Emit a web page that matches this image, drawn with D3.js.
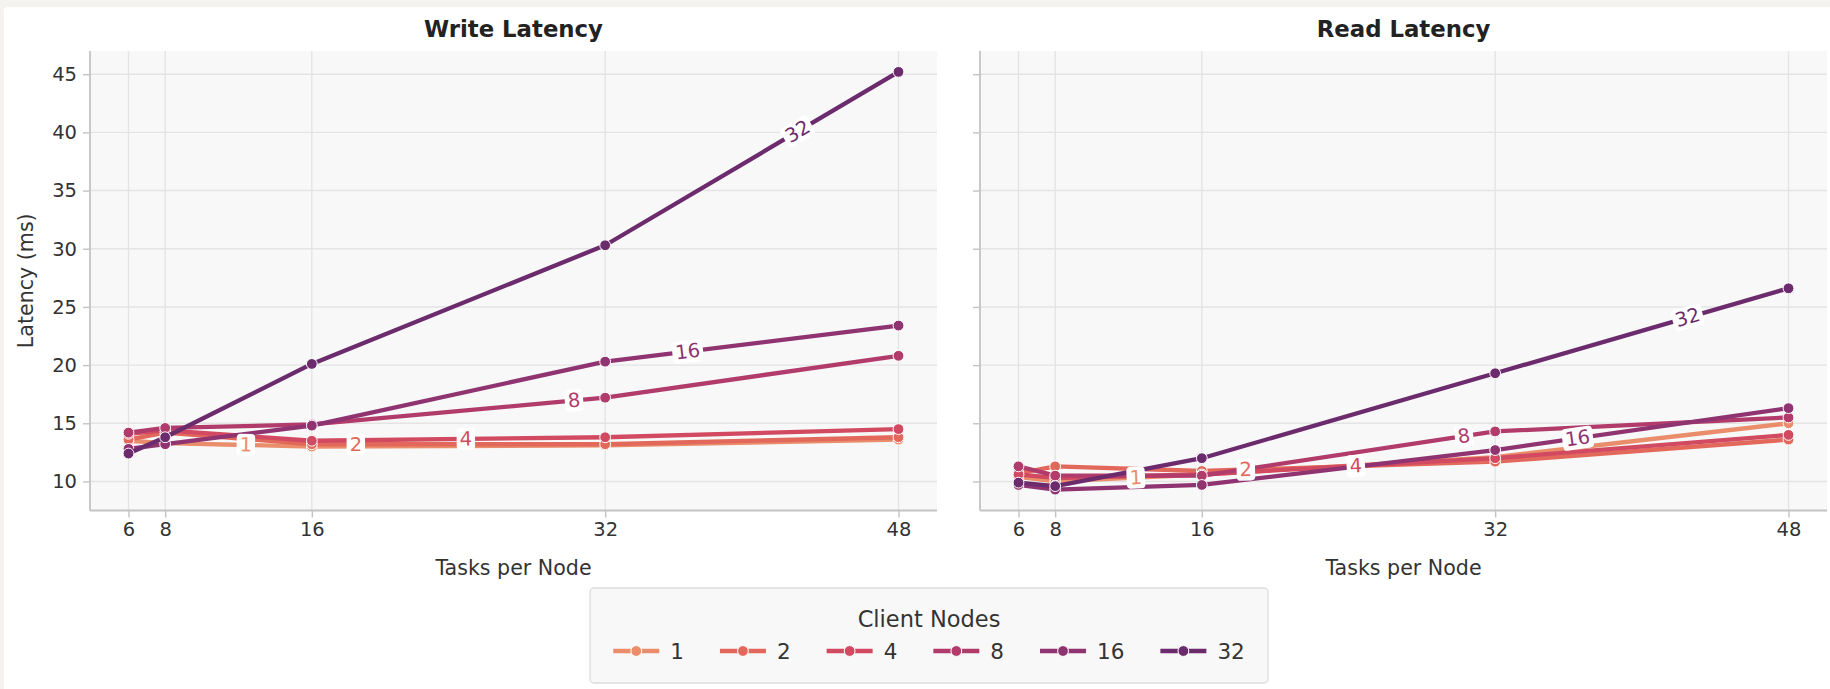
<!DOCTYPE html>
<html>
<head>
<meta charset="utf-8">
<script src="https://cdn.jsdelivr.net/npm/d3@7"></script>
<style>
  html, body { margin: 0; padding: 0; background: #f4f3ef; }
  svg { display: block; font-family: "DejaVu Sans", sans-serif; }
</style>
</head>
<body>
<svg id="chart" width="1830" height="689"></svg>
<script>
// Tasks per node (x) and client node counts (series)
const tasksPerNode = [6, 8, 16, 32, 48];
const clientNodes = ["1", "2", "4", "8", "16", "32"];

// Write latency (ms), one array per client-node count
const write1  = [13.5, 13.3, 13.0, 13.1, 13.6];
const write2  = [13.6, 14.2, 13.2, 13.2, 13.8];
const write4  = [14.1, 14.4, 13.5, 13.8, 14.5];
const write8  = [14.2, 14.6, 14.9, 17.2, 20.8];
const write16 = [12.8, 13.2, 14.8, 20.3, 23.4];
const write32 = [12.4, 13.8, 20.1, 30.3, 45.2];

// Read latency (ms)
const read1  = [10.4, 10.0, 10.6, 12.1, 15.0];
const read2  = [10.7, 11.3, 10.9, 11.7, 13.6];
const read4  = [10.6, 10.3, 10.6, 12.0, 14.0];
const read8  = [11.3, 10.5, 10.5, 14.3, 15.5];
const read16 = [9.7, 9.3, 9.7, 12.7, 16.3];
const read32 = [9.9, 9.6, 12.0, 19.3, 26.6];

const yTickValues = [10, 15, 20, 25, 30, 35, 40, 45];
// x position (tasks per node) where each inline series label sits
const inlineLabelX = [12.4, 18.4, 24.4, 30.3, 36.5, 42.5];

const palette = ["#e98d6b", "#e3685c", "#d14a61", "#b13c6b", "#8f3371", "#6c2b6d"];

const writeSeries = [write1, write2, write4, write8, write16, write32];
const readSeries  = [read1, read2, read4, read8, read16, read32];

const svg = d3.select("#chart");
const W = 1830, H = 689;

// card background
svg.append("rect").attr("x", 0).attr("y", 0).attr("width", W).attr("height", H).attr("fill", "#f4f3ef");
svg.append("rect").attr("x", 4).attr("y", 7).attr("width", W + 10).attr("height", H + 10)
  .attr("rx", 4).attr("fill", "#ffffff");

// shared scales with 5% padding like the plotting defaults
const allVals = writeSeries.concat(readSeries).flat();
const yMin = d3.min(allVals), yMax = d3.max(allVals);
const yPad = (yMax - yMin) * 0.05;
const xMin = d3.min(tasksPerNode), xMax = d3.max(tasksPerNode);
const xPad = (xMax - xMin) * 0.05;

const plotTop = 51, plotBottom = 510.5;
const y = d3.scaleLinear().domain([yMin - yPad, yMax + yPad]).range([plotBottom, plotTop]);

const gridColor = "#e4e4e4", spineColor = "#c3c3c3", textColor = "#333333";

function drawPanel(left, right, title, series, showYLabels) {
  const x = d3.scaleLinear().domain([xMin - xPad, xMax + xPad]).range([left, right]);
  const g = svg.append("g");

  // plot face
  g.append("rect").attr("x", left).attr("y", plotTop)
    .attr("width", right - left).attr("height", plotBottom - plotTop).attr("fill", "#f8f8f8");

  // grid
  g.append("g").selectAll("line").data(yTickValues).join("line")
    .attr("x1", left).attr("x2", right)
    .attr("y1", d => y(d)).attr("y2", d => y(d))
    .attr("stroke", gridColor).attr("stroke-width", 1.4);
  g.append("g").selectAll("line").data(tasksPerNode).join("line")
    .attr("x1", d => x(d)).attr("x2", d => x(d))
    .attr("y1", plotTop).attr("y2", plotBottom)
    .attr("stroke", gridColor).attr("stroke-width", 1.4);

  // axes
  const yAxis = d3.axisLeft(y).tickValues(yTickValues).tickSizeOuter(0).tickSize(7).tickPadding(6)
    .tickFormat(showYLabels ? d3.format("d") : () => "");
  const ya = g.append("g").attr("transform", `translate(${left},0)`).call(yAxis);
  const xAxis = d3.axisBottom(x).tickValues(tasksPerNode).tickSizeOuter(0).tickSize(7).tickPadding(5)
    .tickFormat(d3.format("d"));
  const xa = g.append("g").attr("transform", `translate(0,${plotBottom})`).call(xAxis);
  [ya, xa].forEach(a => {
    a.select(".domain").remove();
    a.selectAll(".tick line").attr("stroke", spineColor).attr("stroke-width", 1.4);
    a.selectAll(".tick text").attr("fill", textColor).attr("font-size", 19.5)
      .attr("font-family", "DejaVu Sans");
  });
  // spines: left and bottom
  g.append("line").attr("x1", left).attr("x2", left).attr("y1", plotTop).attr("y2", plotBottom)
    .attr("stroke", spineColor).attr("stroke-width", 1.8);
  g.append("line").attr("x1", left).attr("x2", right).attr("y1", plotBottom).attr("y2", plotBottom)
    .attr("stroke", spineColor).attr("stroke-width", 1.8);

  // title and x label
  g.append("text").attr("x", (left + right) / 2).attr("y", 29).attr("text-anchor", "middle")
    .attr("dominant-baseline", "central").attr("font-size", 22.8).attr("font-weight", "bold")
    .attr("fill", "#222").text(title);
  g.append("text").attr("x", (left + right) / 2).attr("y", 568).attr("text-anchor", "middle")
    .attr("dominant-baseline", "central").attr("font-size", 20.6).attr("fill", textColor)
    .text("Tasks per Node");

  // lines and markers
  const line = d3.line().x(d => x(d[0])).y(d => y(d[1]));
  series.forEach((vals, i) => {
    const pts = tasksPerNode.map((t, k) => [t, vals[k]]);
    g.append("path").datum(pts).attr("d", line).attr("fill", "none")
      .attr("stroke", palette[i]).attr("stroke-width", 4.3).attr("stroke-linejoin", "round")
      .attr("stroke-linecap", "round");
    g.append("g").selectAll("circle").data(pts).join("circle")
      .attr("cx", d => x(d[0])).attr("cy", d => y(d[1])).attr("r", 5.4)
      .attr("fill", palette[i]).attr("stroke", "#ffffff").attr("stroke-width", 1);
  });

  // inline labels on each line
  series.forEach((vals, i) => {
    const lx = inlineLabelX[i];
    let k = d3.bisectRight(tasksPerNode, lx) - 1;
    k = Math.max(0, Math.min(k, tasksPerNode.length - 2));
    const xa0 = tasksPerNode[k], xb0 = tasksPerNode[k + 1];
    const t = (lx - xa0) / (xb0 - xa0);
    const ly = vals[k] + t * (vals[k + 1] - vals[k]);
    const px = x(lx), py = y(ly);
    const ang = Math.atan2(y(vals[k + 1]) - y(vals[k]), x(xb0) - x(xa0)) * 180 / Math.PI;
    const lg = g.append("g").attr("transform", `translate(${px},${py}) rotate(${ang})`);
    const rect = lg.append("rect").attr("fill", "#ffffff").attr("rx", 4);
    const txt = lg.append("text").attr("text-anchor", "middle").attr("dominant-baseline", "central")
      .attr("font-size", 19.5).attr("fill", palette[i]).text(clientNodes[i]);
    const w = txt.node().getComputedTextLength();
    rect.attr("x", -w / 2 - 3).attr("y", -11).attr("width", w + 6).attr("height", 22);
  });
}

drawPanel(90, 937, "Write Latency", writeSeries, true);
drawPanel(980, 1827, "Read Latency", readSeries, false);

// y axis label
svg.append("text").attr("transform", `translate(26,${(plotTop + plotBottom) / 2}) rotate(-90)`)
  .attr("text-anchor", "middle").attr("dominant-baseline", "central")
  .attr("font-size", 20.6).attr("fill", textColor).text("Latency (ms)");

// legend
const legX = 590, legY = 588, legW = 678, legH = 95;
const leg = svg.append("g");
leg.append("rect").attr("x", legX).attr("y", legY).attr("width", legW).attr("height", legH)
  .attr("rx", 4).attr("fill", "#f8f8f8").attr("stroke", "#dcdcdc").attr("stroke-width", 1.3);
leg.append("text").attr("x", legX + legW / 2).attr("y", 619).attr("text-anchor", "middle")
  .attr("dominant-baseline", "central").attr("font-size", 22.5).attr("fill", textColor)
  .text("Client Nodes");

const handleLen = 46, handleGap = 11, colSpacing = 36, itemY = 651;
const items = clientNodes.map((name, i) => {
  const gi = leg.append("g");
  const txt = gi.append("text").attr("dominant-baseline", "central").attr("font-size", 21.5)
    .attr("fill", textColor).text(name);
  return { gi, txt, w: txt.node().getComputedTextLength(), i };
});
const totalW = d3.sum(items, d => handleLen + handleGap + d.w) + colSpacing * (items.length - 1);
let cx = legX + (legW - totalW) / 2;
items.forEach(d => {
  d.gi.insert("line", "text").attr("x1", cx).attr("x2", cx + handleLen)
    .attr("y1", itemY).attr("y2", itemY).attr("stroke", palette[d.i]).attr("stroke-width", 4.3);
  d.gi.insert("circle", "text").attr("cx", cx + handleLen / 2).attr("cy", itemY).attr("r", 5.4)
    .attr("fill", palette[d.i]).attr("stroke", "#fff").attr("stroke-width", 1);
  d.txt.attr("x", cx + handleLen + handleGap).attr("y", itemY);
  cx += handleLen + handleGap + d.w + colSpacing;
});
</script>
</body>
</html>
